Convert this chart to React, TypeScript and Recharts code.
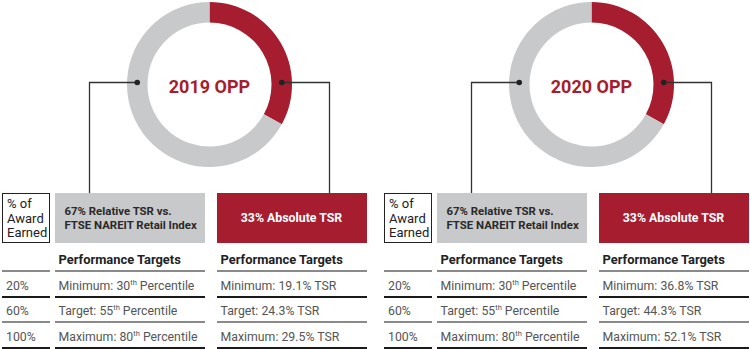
import React from 'react';
import { Cell, Pie, PieChart } from 'recharts';

// Plan years and award weighting
const planTitles = ['2019 OPP', '2020 OPP'];
const weightNames = ['33% Absolute TSR', '67% Relative TSR vs.'];
const weights2019 = [33, 67];
const weights2020 = [33, 67];

// Performance targets
const awardEarned = ['20%', '60%', '100%'];
const targetLevels = ['Minimum', 'Target', 'Maximum'];
const relativePercentiles = [30, 55, 80];
const absoluteTsr2019 = [19.1, 24.3, 29.5];
const absoluteTsr2020 = [36.8, 44.3, 52.1];

const RED = '#A61D2F';
const GRAY = '#C8C9CB';
const FONT = 'Roboto, "Noto Sans", sans-serif';

const PANEL_SHIFT = 382;
const CY = 84.5;
const OUTER = 82.5;
const INNER = 62;
const LINE_YS = [271, 296.5, 322, 347.5];
const LINE_COLORS = ['#8a8a8a', '#1a1a1a', '#8a8a8a', '#1a1a1a'];

const COLS = [
  { x: 2, w: 48 },
  { x: 54.5, w: 150 },
  { x: 216.5, w: 150 },
];

const Cellbox: React.FC<{
  x: number;
  lineY: number;
  w: number;
  color: string;
  bold?: boolean;
  children?: React.ReactNode;
}> = ({ x, lineY, w, color, bold, children }) => (
  <div
    style={{
      position: 'absolute',
      left: x,
      top: lineY - 21,
      width: w,
      height: 20,
      lineHeight: '20px',
      borderBottom: `2px solid ${color}`,
      fontSize: bold ? 12.9 : 12.3,
      fontWeight: bold ? 700 : 400,
      color: bold ? '#222' : '#555',
      whiteSpace: 'nowrap',
      boxSizing: 'content-box',
    }}
  >
    <span style={{ paddingLeft: 4 }}>{children}</span>
  </div>
);

const Ordinal: React.FC<{ n: number }> = ({ n }) => (
  <>
    {n}
    <sup style={{ fontSize: 7.5, lineHeight: 0, verticalAlign: 5 }}>th</sup>
  </>
);

const Panel: React.FC<{ ox: number; title: string; absolute: number[] }> = ({ ox, title, absolute }) => {
  const mid = (INNER + OUTER) / 2;
  const cx = ox + 209.5;
  return (
    <>
      {/* connectors from ring to boxes, and the plan title */}
      <svg
        width={750}
        height={349}
        style={{ position: 'absolute', left: 0, top: 0, pointerEvents: 'none' }}
      >
        <polyline
          points={`${cx - mid},${CY - 2} ${ox + 89.5},${CY - 2} ${ox + 89.5},193`}
          fill="none"
          stroke="#333"
          strokeWidth={1.3}
        />
        <polyline
          points={`${cx + mid},${CY - 2} ${ox + 329.5},${CY - 2} ${ox + 329.5},193`}
          fill="none"
          stroke="#333"
          strokeWidth={1.3}
        />
        <circle cx={cx - mid} cy={CY - 2} r={2.8} fill="#222" />
        <circle cx={cx + mid} cy={CY - 2} r={2.8} fill="#222" />
        <text
          x={cx}
          y={CY + 8}
          textAnchor="middle"
          fill={RED}
          style={{ fontSize: 18, fontWeight: 700, fontFamily: FONT }}
        >
          {title}
        </text>
      </svg>

      {/* header boxes */}
      <div
        style={{
          position: 'absolute',
          left: ox + 2,
          top: 193,
          width: 48,
          height: 50,
          border: '1.5px solid #222',
          boxSizing: 'border-box',
          fontSize: 13,
          lineHeight: '14.5px',
          color: '#222',
          padding: '3px 0 0 4px',
        }}
      >
        % of
        <br />
        Award
        <br />
        Earned
      </div>
      <div
        style={{
          position: 'absolute',
          left: ox + 54.5,
          top: 193,
          width: 150,
          height: 50,
          background: GRAY,
          display: 'flex',
          alignItems: 'center',
          paddingLeft: 10,
          boxSizing: 'border-box',
          fontSize: 11.4,
          fontWeight: 700,
          lineHeight: '14.3px',
          color: '#2a2a2a',
          whiteSpace: 'nowrap',
        }}
      >
        <div>
          {weightNames[1]}
          <br />
          FTSE NAREIT Retail Index
        </div>
      </div>
      <div
        style={{
          position: 'absolute',
          left: ox + 216.5,
          top: 193,
          width: 150,
          height: 50,
          background: RED,
          display: 'flex',
          alignItems: 'center',
          justifyContent: 'center',
          fontSize: 12.3,
          fontWeight: 700,
          color: '#fff',
        }}
      >
        {weightNames[0]}
      </div>

      {/* header row */}
      <Cellbox x={ox + COLS[0].x} w={COLS[0].w} lineY={LINE_YS[0]} color={LINE_COLORS[0]} />
      <Cellbox x={ox + COLS[1].x} w={COLS[1].w} lineY={LINE_YS[0]} color={LINE_COLORS[0]} bold>
        Performance Targets
      </Cellbox>
      <Cellbox x={ox + COLS[2].x} w={COLS[2].w} lineY={LINE_YS[0]} color={LINE_COLORS[0]} bold>
        Performance Targets
      </Cellbox>

      {awardEarned.map((pct, i) => (
        <React.Fragment key={pct}>
          <Cellbox x={ox + COLS[0].x} w={COLS[0].w} lineY={LINE_YS[i + 1]} color={LINE_COLORS[i + 1]}>
            {pct}
          </Cellbox>
          <Cellbox x={ox + COLS[1].x} w={COLS[1].w} lineY={LINE_YS[i + 1]} color={LINE_COLORS[i + 1]}>
            {targetLevels[i]}: <Ordinal n={relativePercentiles[i]} /> Percentile
          </Cellbox>
          <Cellbox x={ox + COLS[2].x} w={COLS[2].w} lineY={LINE_YS[i + 1]} color={LINE_COLORS[i + 1]}>
            {targetLevels[i]}: {absolute[i].toFixed(1)}% TSR
          </Cellbox>
        </React.Fragment>
      ))}
    </>
  );
};

export default function App() {
  const pieData = [weights2019, weights2020].map((w) => [
    { name: 'Absolute TSR', value: w[0] },
    { name: 'Relative TSR', value: w[1] },
  ]);

  return (
    <div style={{ position: 'relative', width: 750, height: 349, fontFamily: FONT, overflow: 'hidden' }}>
      <style>{'body{margin:0}'}</style>
      <div style={{ position: 'absolute', left: 0, top: 0 }}>
        <PieChart width={750} height={190} margin={{ top: 0, right: 0, bottom: 0, left: 0 }}>
          {pieData.map((data, p) => (
            <Pie
              key={planTitles[p]}
              data={data}
              dataKey="value"
              cx={209.5 + p * PANEL_SHIFT}
              cy={CY}
              innerRadius={INNER}
              outerRadius={OUTER}
              startAngle={90}
              endAngle={-270}
              stroke="none"
              isAnimationActive={false}
            >
              <Cell fill={RED} />
              <Cell fill={GRAY} />
            </Pie>
          ))}
        </PieChart>
      </div>
      <Panel ox={0} title={planTitles[0]} absolute={absoluteTsr2019} />
      <Panel ox={PANEL_SHIFT} title={planTitles[1]} absolute={absoluteTsr2020} />
    </div>
  );
}
